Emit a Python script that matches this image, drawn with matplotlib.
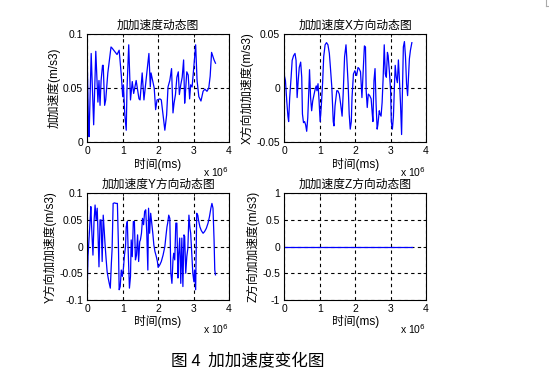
import numpy as np
import matplotlib.pyplot as plt
from matplotlib.lines import Line2D

plt.rcParams['font.family'] = ['Liberation Sans', 'Noto Sans CJK SC', 'DejaVu Sans']
plt.rcParams['axes.unicode_minus'] = False

# time axis in units of 1e6 ms
t_all = [0.00, 0.03, 0.05, 0.11, 0.18, 0.24, 0.30, 0.33, 0.36, 0.39, 0.43, 0.45,
         0.49, 0.52, 0.58, 0.67, 0.70, 0.77, 0.84, 0.90, 0.96, 1.00, 1.02, 1.06,
         1.10, 1.12, 1.17, 1.22, 1.27, 1.31, 1.38, 1.46, 1.49, 1.55, 1.60, 1.74,
         1.78, 1.80, 1.89, 1.93, 1.97, 2.05, 2.09, 2.14, 2.19, 2.24, 2.28, 2.33,
         2.38, 2.42, 2.45, 2.49, 2.53, 2.57, 2.60, 2.64, 2.68, 2.72, 2.75, 2.77,
         2.81, 2.85, 2.89, 2.92, 2.96, 3.02, 3.06, 3.10, 3.15, 3.21, 3.27, 3.32,
         3.38, 3.43, 3.47, 3.51, 3.55, 3.58, 3.62]
jerk_all = [0.073, 0.022, 0.005, 0.082, 0.016, 0.084, 0.037, 0.057, 0.034, 0.057, 0.071, 0.071,
            0.034, 0.039, 0.064, 0.088, 0.087, 0.084, 0.081, 0.085, 0.062, 0.042, 0.053, 0.025,
            0.011, 0.048, 0.090, 0.039, 0.056, 0.045, 0.057, 0.040, 0.039, 0.064, 0.039, 0.082,
            0.051, 0.064, 0.050, 0.030, 0.039, 0.040, 0.039, 0.025, 0.011, 0.025, 0.051, 0.057,
            0.068, 0.027, 0.036, 0.044, 0.060, 0.065, 0.044, 0.053, 0.060, 0.076, 0.036, 0.045,
            0.065, 0.062, 0.040, 0.053, 0.051, 0.074, 0.090, 0.057, 0.042, 0.038, 0.047, 0.049,
            0.047, 0.050, 0.061, 0.083, 0.079, 0.076, 0.073]

t_x = [0.00, 0.03, 0.07, 0.10, 0.12, 0.15, 0.19, 0.22, 0.26, 0.30, 0.33, 0.36, 0.39, 0.42,
       0.46, 0.49, 0.51, 0.54, 0.57, 0.60, 0.63, 0.66, 0.69, 0.71, 0.74, 0.77, 0.80, 0.84,
       0.87, 0.90, 0.92, 0.95, 0.98, 1.01, 1.04, 1.08, 1.11, 1.15, 1.19, 1.23, 1.27, 1.30,
       1.34, 1.38, 1.40, 1.43, 1.48, 1.51, 1.55, 1.59, 1.63, 1.66, 1.70, 1.74, 1.76, 1.80,
       1.83, 1.86, 1.89, 1.91, 1.95, 1.99, 2.04, 2.08, 2.11, 2.15, 2.19, 2.23, 2.26, 2.29,
       2.31, 2.34, 2.37, 2.41, 2.45, 2.48, 2.50, 2.53, 2.56, 2.59, 2.62, 2.64, 2.68, 2.70,
       2.73, 2.76, 2.79, 2.82, 2.85, 2.88, 2.91, 2.93, 2.97, 3.00, 3.02, 3.05, 3.08, 3.11,
       3.13, 3.16, 3.19, 3.22, 3.25, 3.28, 3.31, 3.33, 3.36, 3.39, 3.42, 3.45, 3.48, 3.50,
       3.53, 3.56, 3.60]
jerk_x = [0.0116, 0.0069, -0.0134, -0.026, -0.031, -0.0088, 0.010, 0.0256, 0.030, 0.032,
          0.0256, -0.0088, 0.0069, 0.019, 0.024, 0.010, -0.024, -0.032, -0.031, -0.034,
          -0.040, -0.0275, -0.0025, 0.017, -0.0088, -0.021, -0.012, -0.0056, -0.001, 0.002,
          -0.0025, 0.004, -0.012, -0.031, -0.018, 0.005, 0.029, 0.040, 0.042, 0.040,
          0.032, 0.019, 0.0006, -0.031, -0.035, -0.0166, -0.0025, -0.0025, -0.0056, -0.015,
          -0.026, -0.0056, 0.029, 0.040, 0.029, 0.004, -0.024, -0.038, -0.031, -0.0088,
          0.013, 0.016, 0.0116, 0.019, 0.018, 0.015, -0.0088, 0.019, 0.039, 0.038,
          -0.0025, -0.018, -0.0056, -0.007, -0.010, -0.023, -0.031, 0.0069, 0.018, -0.015,
          -0.038, -0.034, -0.021, -0.024, -0.026, -0.0134, 0.010, 0.040, 0.013, 0.010,
          0.033, 0.030, 0.013, -0.0025, -0.031, -0.038, -0.026, 0.004, 0.021, 0.010,
          0.005, 0.026, 0.007, -0.015, -0.043, -0.009, 0.038, 0.043, 0.029, 0.004,
          -0.007, 0.007, 0.027, 0.035, 0.042]

t_y = [0.00, 0.02, 0.05, 0.08, 0.10, 0.13, 0.16, 0.19, 0.22, 0.25, 0.28, 0.30, 0.33, 0.36,
       0.39, 0.42, 0.45, 0.48, 0.50, 0.53, 0.56, 0.59, 0.62, 0.65, 0.68, 0.70, 0.73, 0.77,
       0.81, 0.85, 0.88, 0.90, 0.93, 0.96, 0.99, 1.02, 1.05, 1.08, 1.10, 1.13, 1.16, 1.19,
       1.22, 1.24, 1.27, 1.30, 1.33, 1.36, 1.39, 1.42, 1.45, 1.48, 1.50, 1.53, 1.56, 1.59,
       1.62, 1.65, 1.68, 1.71, 1.73, 1.76, 1.79, 1.82, 1.85, 1.88, 1.91, 1.95, 1.98, 2.00,
       2.05, 2.09, 2.14, 2.19, 2.22, 2.25, 2.27, 2.30, 2.33, 2.36, 2.39, 2.42, 2.44, 2.47,
       2.50, 2.53, 2.56, 2.58, 2.61, 2.64, 2.67, 2.70, 2.73, 2.75, 2.78, 2.81, 2.84, 2.87,
       2.90, 2.92, 2.95, 2.98, 3.01, 3.03, 3.06, 3.09, 3.12, 3.14, 3.18, 3.22, 3.27, 3.31,
       3.36, 3.41, 3.45, 3.49, 3.52, 3.55, 3.58, 3.60, 3.62]
jerk_y = [-0.072, -0.019, 0.016, 0.050, 0.075, 0.025, -0.016, 0.047, 0.078, 0.050, 0.072,
          0.031, -0.038, 0.050, 0.050, -0.028, 0.059, 0.028, 0.006, -0.022, -0.047, -0.059,
          -0.069, -0.078, -0.031, -0.006, 0.081, 0.082, 0.081, 0.081, 0.0, -0.081, -0.075,
          -0.044, -0.056, -0.041, -0.016, 0.0, 0.037, 0.047, -0.019, -0.078, -0.056, 0.0125,
          -0.019, 0.047, 0.047, -0.025, -0.016, 0.022, -0.028, 0.009, 0.0125, 0.025, 0.053,
          0.041, 0.066, 0.069, 0.025, -0.044, 0.072, 0.025, 0.0625, 0.044, 0.025, 0.003,
          -0.009, -0.019, -0.028, -0.039, -0.034, -0.028, -0.016, 0.0, 0.019, 0.037, 0.044,
          0.059, 0.053, -0.050, -0.069, -0.025, -0.0125, -0.025, 0.044, 0.044, -0.059, -0.016,
          0.016, -0.069, 0.016, -0.075, 0.022, 0.019, -0.050, -0.019, -0.003, 0.059, 0.034,
          0.025, -0.0125, -0.050, -0.066, -0.044, -0.081, 0.0625, 0.059, 0.050, 0.037, 0.030,
          0.025, 0.028, 0.034, 0.044, 0.056, 0.072, 0.081, 0.072, 0.0125, -0.044, -0.053]

t_z = [0.0, 3.6]
jerk_z = [0.0, 0.0]

titles = ['加加速度动态图', '加加速度X方向动态图', '加加速度Y方向动态图', '加加速度Z方向动态图']
ylabels = ['加加速度(m/s3)', 'X方向加加速度(m/s3)', 'Y方向加加速度(m/s3)', 'Z方向加加速度(m/s3)']
yticks = [[0, 0.05, 0.1], [-0.05, 0, 0.05], [-0.1, -0.05, 0, 0.05, 0.1], [-1, -0.5, 0, 0.5, 1]]
yticklabels = [['0', '0.05', '0.1'], ['-0.05', '0', '0.05'],
               ['-0.1', '-0.05', '0', '0.05', '0.1'], ['-1', '-0.5', '0', '0.5', '1']]
xticks = [0, 1, 2, 3, 4]

series = [(t_all, jerk_all), (t_x, jerk_x), (t_y, jerk_y), (t_z, jerk_z)]
positions = [[0.159, 0.628, 0.258, 0.283], [0.518, 0.628, 0.258, 0.283],
             [0.159, 0.215, 0.258, 0.279], [0.518, 0.215, 0.258, 0.279]]

fig = plt.figure(figsize=(5.49, 3.82), dpi=100)

for i in range(4):
    ax = fig.add_axes(positions[i])
    t, v = series[i]
    ax.plot(t, v, color='#0000ff', linewidth=0.9)
    ax.set_xlim(0, 4)
    ax.set_ylim(yticks[i][0], yticks[i][-1])
    ax.set_xticks(xticks)
    ax.set_xticklabels([str(x) for x in xticks], fontsize=7.5)
    ax.set_yticks(yticks[i])
    ax.set_yticklabels(yticklabels[i], fontsize=7.5)
    ax.tick_params(direction='in', length=2.5, width=0.6, pad=3, top=True, right=True)
    ax.grid(True, color='black', linestyle=(0, (3, 3)), linewidth=0.8)
    for s in ax.spines.values():
        s.set_linewidth(0.8)
    ax.set_title(titles[i], fontsize=8.5, pad=4)
    ax.set_xlabel('时间(ms)', fontsize=8.5, labelpad=1)
    ax.set_ylabel(ylabels[i], fontsize=8.5, labelpad=2)
    ax.text(1.0, -0.21, 'x 10$^6$', transform=ax.transAxes, fontsize=7.5,
            ha='right', va='top')

fig.text(0.452, 0.052, '图 4  加加速度变化图', fontsize=12, ha='center', va='center',
         family=['Noto Sans CJK SC', 'DejaVu Sans'])

fig.add_artist(Line2D([0.9945, 0.9945], [1.0, 0.985], color='#aaaaaa', linewidth=0.8))
fig.add_artist(Line2D([0.9945, 1.0], [0.985, 0.985], color='#aaaaaa', linewidth=0.8))

fig.savefig('out.png', dpi=100)
